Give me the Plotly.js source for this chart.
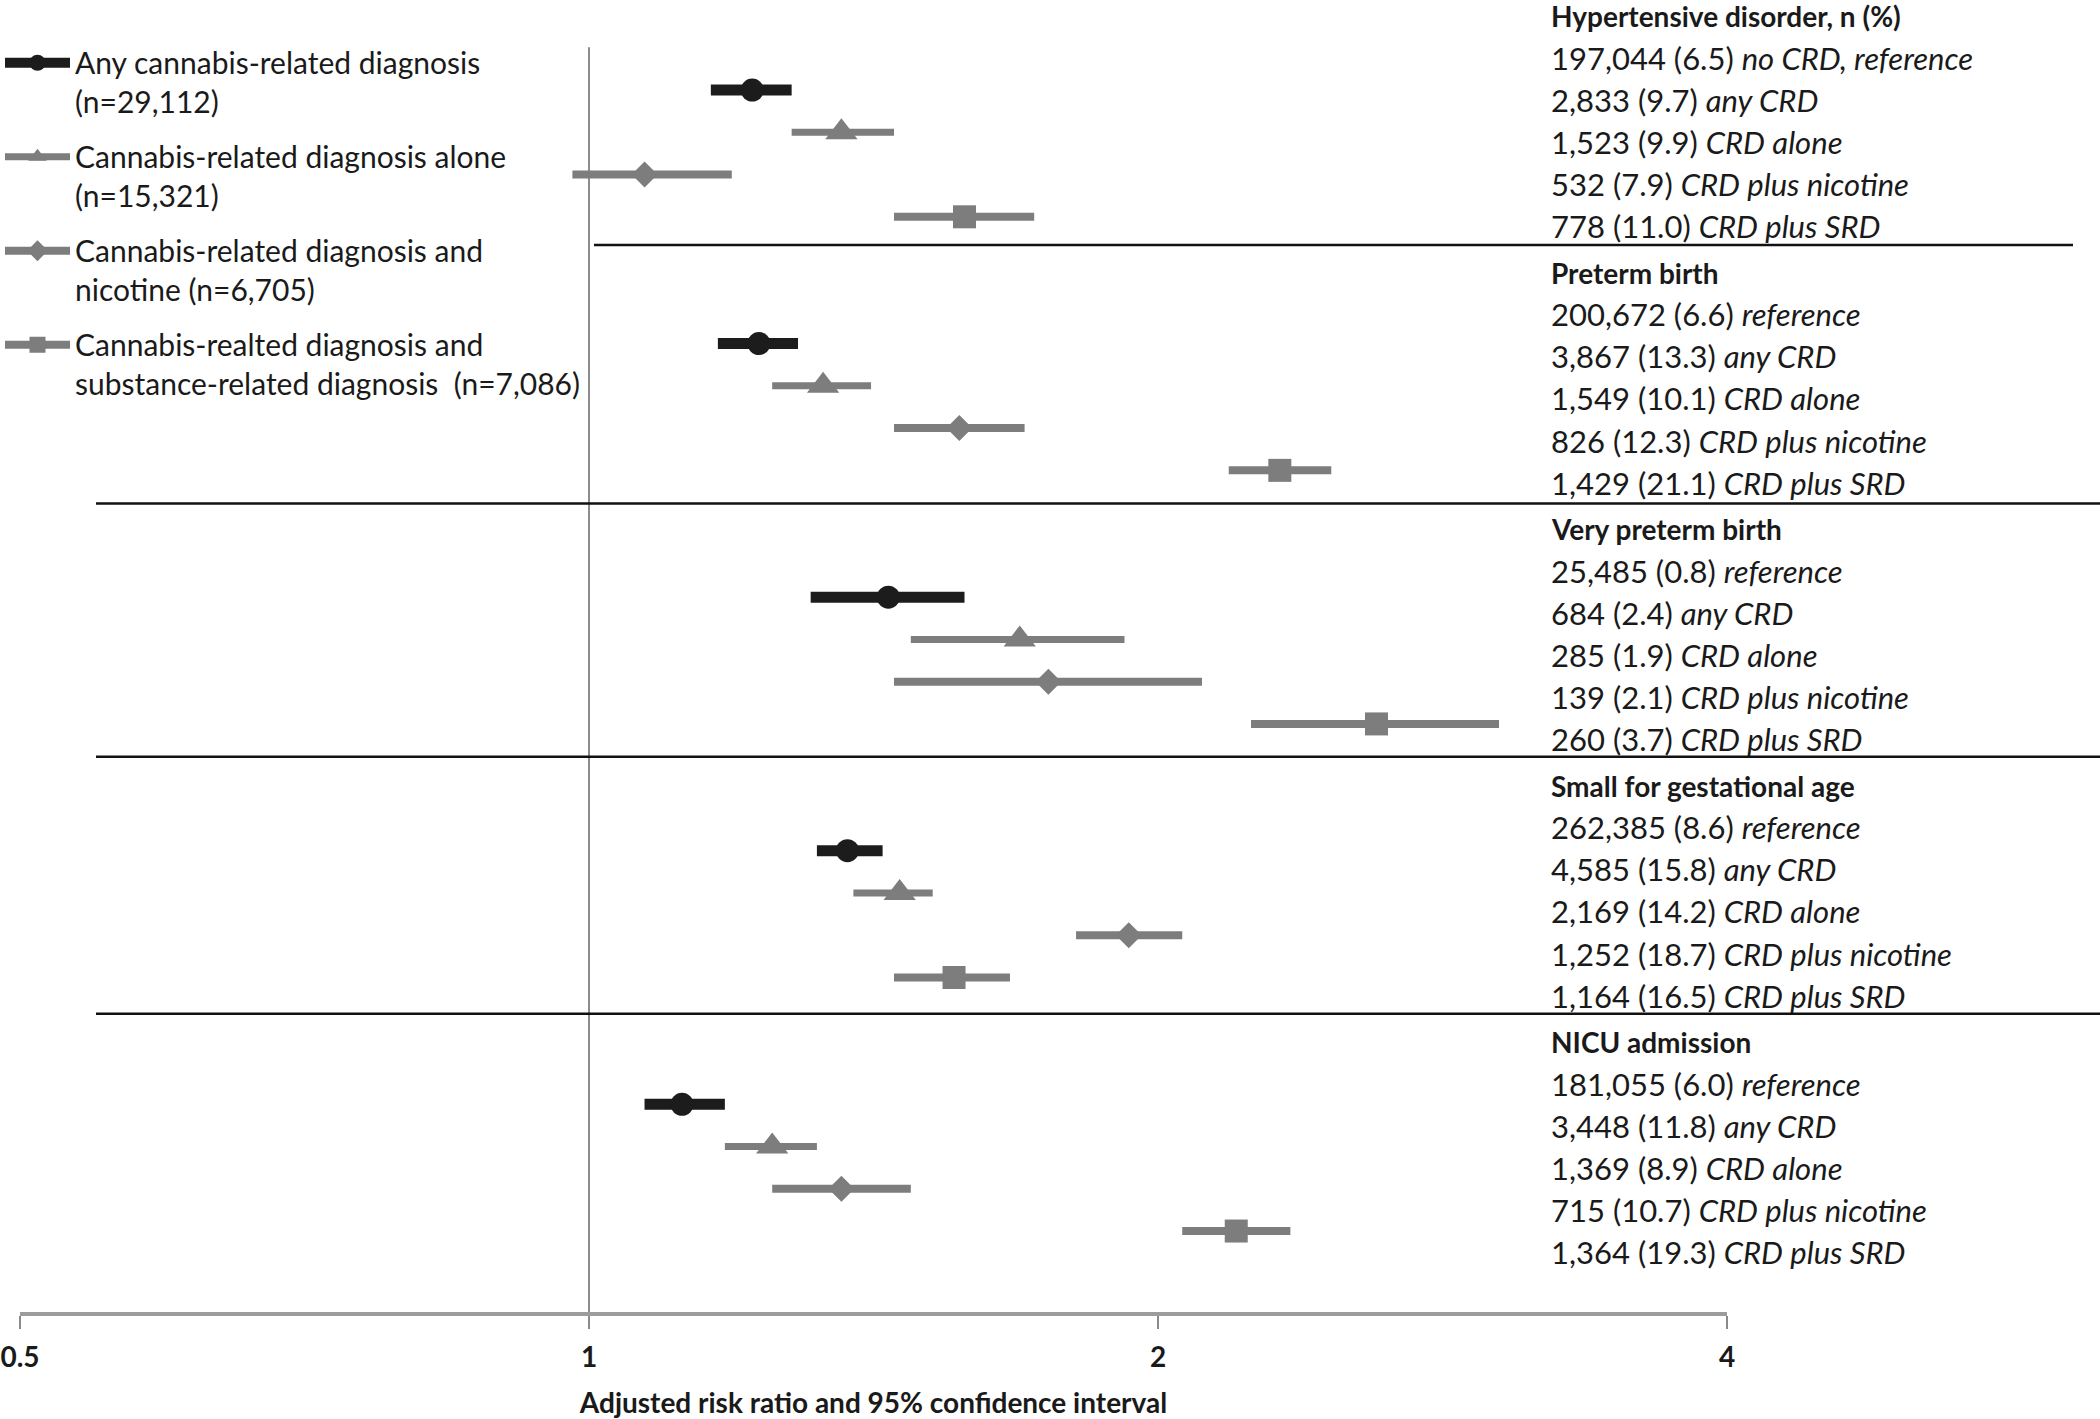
<!DOCTYPE html>
<html>
<head>
<meta charset="utf-8">
<script src="https://cdn.plot.ly/plotly-3.0.1.min.js"></script>
<style>
  html, body { margin: 0; padding: 0; background: #fff; }
  #plot { width: 2100px; height: 1419px; }
</style>
</head>
<body>
<div id="plot"></div>
<script>
// outcomes, top to bottom
const outcomes = ['Hypertensive disorder, n (%)', 'Preterm birth', 'Very preterm birth',
                  'Small for gestational age', 'NICU admission'];
const refCounts = ['197,044 (6.5)', '200,672 (6.6)', '25,485 (0.8)', '262,385 (8.6)', '181,055 (6.0)'];
const refLabels = ['no CRD, reference', 'reference', 'reference', 'reference', 'reference'];

// exposure groups
const groupNames = [
    'Any cannabis-related diagnosis<br>(n=29,112)',
    'Cannabis-related diagnosis alone<br>(n=15,321)',
    'Cannabis-related diagnosis and<br>nicotine (n=6,705)',
    'Cannabis-realted diagnosis and<br>substance-related diagnosis  (n=7,086)'
];
const groupLabels = ['any CRD', 'CRD alone', 'CRD plus nicotine', 'CRD plus SRD'];

// n (%) per outcome
const anyCounts = ['2,833 (9.7)', '3,867 (13.3)', '684 (2.4)', '4,585 (15.8)', '3,448 (11.8)'];
const aloneCounts = ['1,523 (9.9)', '1,549 (10.1)', '285 (1.9)', '2,169 (14.2)', '1,369 (8.9)'];
const nicCounts = ['532 (7.9)', '826 (12.3)', '139 (2.1)', '1,252 (18.7)', '715 (10.7)'];
const srdCounts = ['778 (11.0)', '1,429 (21.1)', '260 (3.7)', '1,164 (16.5)', '1,364 (19.3)'];

// adjusted risk ratios and 95% CI per outcome
const anyRR = [1.22, 1.23, 1.44, 1.37, 1.12];
const anyLo = [1.16, 1.17, 1.31, 1.32, 1.07];
const anyHi = [1.28, 1.29, 1.58, 1.43, 1.18];

const aloneRR = [1.36, 1.33, 1.69, 1.46, 1.25];
const aloneLo = [1.28, 1.25, 1.48, 1.38, 1.18];
const aloneHi = [1.45, 1.41, 1.92, 1.52, 1.32];

const nicRR = [1.07, 1.57, 1.75, 1.93, 1.36];
const nicLo = [0.98, 1.45, 1.45, 1.81, 1.25];
const nicHi = [1.19, 1.70, 2.11, 2.06, 1.48];

const srdRR = [1.58, 2.32, 2.61, 1.56, 2.20];
const srdLo = [1.45, 2.18, 2.24, 1.45, 2.06];
const srdHi = [1.72, 2.47, 3.03, 1.67, 2.35];

const tickVals = [0.5, 1, 2, 4];

const FONT = 'Lato, "Open Sans", sans-serif';
const ROWS = 6; // title, reference, 4 exposures
const PLOT_H = 1312; // plot area height in px (axis line sits at the bottom)

// text column layout (px from top): block pitch, gap under the title, line pitch
const TEXT_TOP = 16, BLOCK_STEP = 256.5, TITLE_GAP = 41.5, LINE_STEP = 42.2;
const SEP_PX = [245, 503.5, 756.7, 1013.8];

const groups = [
    {rr: anyRR, lo: anyLo, hi: anyHi, counts: anyCounts, color: '#1c1c1c', symbol: 'circle', size: 23, bar: 11},
    {rr: aloneRR, lo: aloneLo, hi: aloneHi, counts: aloneCounts, color: '#7d7d7d', symbol: 'triangle-up', size: 28, bar: 7},
    {rr: nicRR, lo: nicLo, hi: nicHi, counts: nicCounts, color: '#7d7d7d', symbol: 'diamond', size: 20, bar: 8},
    {rr: srdRR, lo: srdLo, hi: srdHi, counts: srdCounts, color: '#7d7d7d', symbol: 'square', size: 23, bar: 8}
];

// points are separated by nulls so the line (used for the legend icon) never joins rows
function gaps(arr) {
    let out = [];
    arr.forEach(v => { out.push(v); out.push(null); });
    return out;
}

let data = groups.map((g, gi) => {
    const rows = outcomes.map((o, oi) => oi * ROWS + 2 + gi);
    return {
        x: gaps(g.rr),
        y: gaps(rows),
        mode: 'lines+markers',
        connectgaps: false,
        name: groupNames[gi],
        legendgroup: 'g' + gi,
        line: {color: g.color, width: g.bar},
        marker: {symbol: g.symbol, size: g.size, color: g.color},
        error_x: {
            type: 'data',
            symmetric: false,
            array: gaps(g.hi.map((h, i) => h - g.rr[i])),
            arrayminus: gaps(g.lo.map((l, i) => g.rr[i] - l)),
            color: g.color,
            thickness: g.bar,
            width: 0
        },
        hoverinfo: 'x'
    };
});

// right-hand text column
let annotations = [];
outcomes.forEach((o, oi) => {
    const lines = [
        '<b>' + o + '</b>',
        refCounts[oi] + ' <i>' + refLabels[oi] + '</i>'
    ];
    groups.forEach((g, gi) => lines.push(g.counts[oi] + ' <i>' + groupLabels[gi] + '</i>'));
    lines.forEach((t, li) => {
        const px = TEXT_TOP + BLOCK_STEP * oi + (li ? TITLE_GAP + LINE_STEP * (li - 1) : 0);
        annotations.push({
            xref: 'paper', yref: 'paper',
            x: 1549 / 2100, y: 1 - px / PLOT_H,
            xanchor: 'left', yanchor: 'middle',
            text: t, showarrow: false,
            font: {family: FONT, size: li === 0 ? 28 : 31, color: '#1a1a1a'}
        });
    });
});

// reference line at RR = 1 and separators between outcome blocks
let shapes = [{
    type: 'line', xref: 'x', yref: 'paper',
    x0: 1, x1: 1, y0: 0, y1: 0.964,
    line: {color: '#8c8c8c', width: 2}, layer: 'below'
}];
SEP_PX.forEach((px, i) => {
    const yy = 1 - px / PLOT_H;
    shapes.push({
        type: 'line', xref: 'paper', yref: 'paper',
        x0: i === 0 ? 594 / 2100 : 96 / 2100,
        x1: i === 0 ? 2073 / 2100 : 1,
        y0: yy, y1: yy,
        line: {color: '#111', width: 2.5}
    });
});

const layout = {
    width: 2100,
    height: 1419,
    margin: {l: 0, r: 0, t: 0, b: 1419 - PLOT_H},
    paper_bgcolor: '#fff',
    plot_bgcolor: '#fff',
    font: {family: FONT, color: '#1a1a1a'},
    showlegend: true,
    legend: {
        x: 0, y: 0.972, xanchor: 'left', yanchor: 'top',
        font: {family: FONT, size: 30, color: '#1a1a1a'},
        valign: 'top',
        tracegroupgap: 13,
        itemwidth: 65,
        bgcolor: 'rgba(0,0,0,0)'
    },
    xaxis: {
        type: 'log',
        domain: [20 / 2100, 1727 / 2100],
        range: [Math.log10(0.5), Math.log10(4)],
        tickvals: tickVals,
        ticktext: tickVals.map(String),
        ticks: 'outside',
        ticklen: 13,
        tickwidth: 1.5,
        tickcolor: '#8a8a8a',
        ticklabelstandoff: 4,
        tickfont: {family: FONT, size: 28, weight: 'bold', color: '#1a1a1a'},
        showline: true,
        linecolor: '#9c9c9c',
        linewidth: 4,
        showgrid: false,
        zeroline: false,
        title: {
            text: 'Adjusted risk ratio and 95% confidence interval',
            font: {family: FONT, size: 28, weight: 'bold', color: '#1a1a1a'},
            standoff: 25
        }
    },
    yaxis: {
        // marker rows: row k sits at 5.5 + 42.26k px from the top
        range: [(PLOT_H - 5.5) / 42.26, -5.5 / 42.26],
        visible: false,
        showgrid: false,
        zeroline: false
    },
    shapes: shapes,
    annotations: annotations
};

Plotly.newPlot('plot', data, layout, {displayModeBar: false, staticPlot: true});
</script>
</body>
</html>
